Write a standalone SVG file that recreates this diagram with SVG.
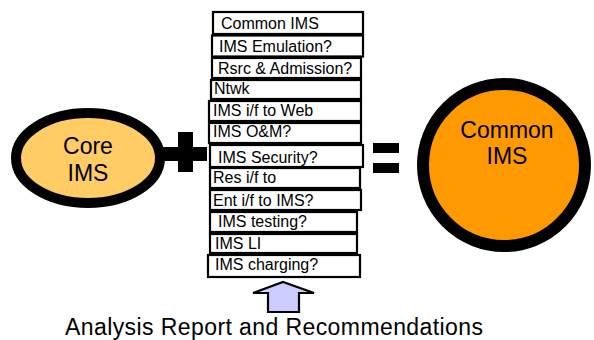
<svg xmlns="http://www.w3.org/2000/svg" width="594" height="340" viewBox="0 0 594 340">
<style>
text{font-family:"Liberation Sans",Arial,sans-serif;fill:#000}
.box{fill:#fff;stroke:#000;stroke-width:2.2}
.bt{font-size:16px}
.big{font-size:23px;text-anchor:middle}
.op{fill:#000}
</style>
<rect width="594" height="340" fill="#fff"/>
<g id="core-ims">
<ellipse cx="88" cy="158" rx="72" ry="45" fill="#FFCC66" stroke="#000" stroke-width="10"/>
<text class="big" x="88" y="154">Core</text>
<text class="big" x="88" y="181">IMS</text>
</g>
<g id="plus">
<rect class="op" x="178" y="132" width="15" height="40"/>
<rect class="op" x="163" y="147" width="44" height="14"/>
</g>
<g id="list">
<g id="item1"><rect class="box" x="213" y="12" width="150" height="22"/><text class="bt" x="221" y="29">Common IMS</text></g>
<g id="item2"><rect class="box" x="212" y="35.5" width="151" height="21"/><text class="bt" x="219" y="52">IMS Emulation?</text></g>
<g id="item3"><rect class="box" x="212" y="58" width="149" height="20"/><text class="bt" x="218" y="74">Rsrc &amp; Admission?</text></g>
<g id="item4"><rect class="box" x="211" y="80" width="150" height="19"/><text class="bt" x="214" y="94">Ntwk</text></g>
<g id="item5"><rect class="box" x="209" y="101" width="152" height="20"/><text class="bt" x="213" y="116">IMS i/f to Web</text></g>
<g id="item6"><rect class="box" x="209" y="123" width="152" height="20"/><text class="bt" x="213" y="137">IMS O&amp;M?</text></g>
<g id="item7"><rect class="box" x="210" y="145" width="153" height="22"/><text class="bt" x="218" y="163">IMS Security?</text></g>
<g id="item8"><rect class="box" x="210" y="168" width="150" height="20"/><text class="bt" x="213" y="183">Res i/f to</text></g>
<g id="item9"><rect class="box" x="210" y="190" width="151" height="20"/><text class="bt" x="213" y="206">Ent i/f to IMS?</text></g>
<g id="item10"><rect class="box" x="210" y="212" width="147" height="20"/><text class="bt" x="218" y="227">IMS testing?</text></g>
<g id="item11"><rect class="box" x="210" y="234" width="147" height="19"/><text class="bt" x="215" y="249">IMS LI</text></g>
<g id="item12"><rect class="box" x="208" y="255" width="152" height="22"/><text class="bt" x="215" y="270">IMS charging?</text></g>
</g>
<g id="equals">
<rect class="op" x="373" y="143" width="26" height="10"/>
<rect class="op" x="373" y="163" width="26" height="10"/>
</g>
<g id="common-ims">
<circle cx="504" cy="165" r="81" fill="#FF9900" stroke="#000" stroke-width="12"/>
<text class="big" x="507" y="138">Common</text>
<text class="big" x="507" y="164">IMS</text>
</g>
<g id="connectors">
<polygon points="253,293 283,282 314,293 299,293 299,312 268,312 268,293" fill="#CCCCFF" stroke="#000" stroke-width="2.2" stroke-linejoin="miter"/>
</g>
<g id="caption">
<text x="65" y="335" font-size="23" textLength="418" lengthAdjust="spacing">Analysis Report and Recommendations</text>
</g>
</svg>
